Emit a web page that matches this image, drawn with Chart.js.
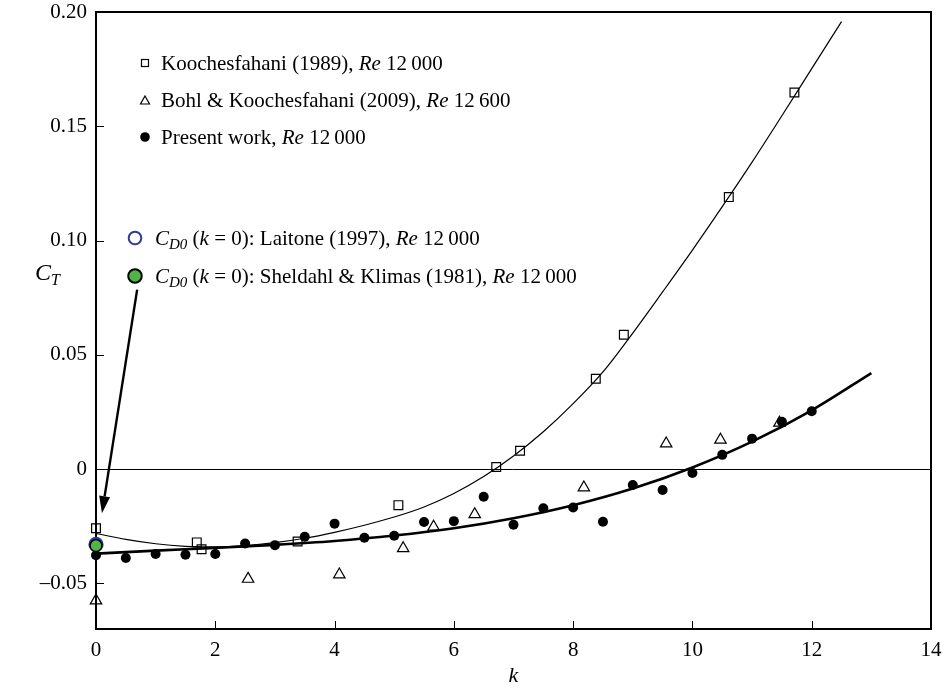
<!DOCTYPE html>
<html>
<head>
<meta charset="utf-8">
<script src="https://cdn.jsdelivr.net/npm/chart.js@4.4.1/dist/chart.umd.min.js"></script>
<style>
  html, body { margin: 0; padding: 0; background: #fff; }
  #wrap { width: 944px; height: 688px; }
</style>
</head>
<body>
<div id="wrap"><canvas id="c" width="944" height="688"></canvas></div>
<script>
// Koochesfahani (1989), Re 12 000
const kooK  = [0, 1.69, 1.77, 3.38, 5.07, 6.71, 7.11, 8.38, 8.85, 10.61, 11.71];
const kooCT = [-0.0259, -0.0321, -0.0351, -0.0317, -0.0158, 0.0009, 0.0080, 0.0395, 0.0588, 0.1190, 0.1648];

// Bohl & Koochesfahani (2009), Re 12 600
const bohlK  = [0, 2.55, 4.08, 5.15, 5.66, 6.35, 8.18, 9.56, 10.47, 11.46];
const bohlCT = [-0.0576, -0.0481, -0.0462, -0.0347, -0.0253, -0.0198, -0.0081, 0.0111, 0.0128, 0.0202];

// Present work, Re 12 000
const presK  = [0, 0.5, 1, 1.5, 2, 2.5, 3, 3.5, 4, 4.5, 5, 5.5, 6, 6.5, 7, 7.5, 8, 8.5, 9, 9.5, 10, 10.5, 11, 11.5, 12];
const presCT = [-0.0377, -0.0389, -0.0372, -0.0375, -0.0372, -0.0326, -0.0333, -0.0296, -0.0239, -0.0301,
                -0.0292, -0.0232, -0.0228, -0.0121, -0.0244, -0.0172, -0.0168, -0.0231, -0.0070, -0.0092,
                -0.0017, 0.0062, 0.0133, 0.0207, 0.0253];

// Zero-frequency drag coefficients
const laitoneK = [0],   laitoneCT = [-0.0330];
const sheldahlK = [0],  sheldahlCT = [-0.0335];

// Fitted trend curves
const fitKooK  = [0, 0.5, 1, 1.5, 2, 2.5, 3, 3.5, 4, 4.5, 5, 5.5, 6, 6.5, 7, 7.5, 8, 8.5, 9, 9.5, 10, 10.5, 11, 11.5, 12, 12.5];
const fitKooCT = [-0.0282, -0.0308, -0.0327, -0.0338, -0.0341, -0.0335, -0.0322, -0.0303, -0.0277, -0.0246,
                  -0.0210, -0.0166, -0.0107, -0.0033, 0.0057, 0.0163, 0.0286, 0.0425, 0.0595, 0.0775,
                  0.0958, 0.1148, 0.1343, 0.1546, 0.1752, 0.1958];
const fitPresK  = [0, 1, 2, 3, 4, 5, 6, 7, 8, 9, 10, 11, 12, 13];
const fitPresCT = [-0.0370, -0.0357, -0.0345, -0.0332, -0.0315, -0.0291, -0.0259, -0.0215, -0.0158, -0.0085,
                   0.0007, 0.0120, 0.0257, 0.0420];

// Axis ticks
const xTicks = [0, 2, 4, 6, 8, 10, 12, 14];
const xTickLabels = ['0', '2', '4', '6', '8', '10', '12', '14'];
const yTicks = [-0.05, 0, 0.05, 0.10, 0.15, 0.20];
const yTickLabels = ['\u20130.05', '0', '0.05', '0.10', '0.15', '0.20'];

// Arrow pointing at the k = 0 drag values (data coordinates)
const arrowFrom = [0.69, 0.0785];
const arrowTo   = [0.10, -0.0193];

const FONT = "'Liberation Serif', 'Times New Roman', serif";
const pts = (xs, ys) => xs.map((x, i) => ({ x, y: ys[i] }));

function drawParts(ctx, x, y, parts) {
  for (const p of parts) {
    ctx.font = (p.i ? 'italic ' : '') + p.s + 'px ' + FONT;
    ctx.fillText(p.t, x, y + (p.dy || 0));
    x += ctx.measureText(p.t).width;
  }
  return x;
}

function zeroPadding(scale) {
  scale.paddingLeft = 0; scale.paddingRight = 0;
  scale.paddingTop = 0; scale.paddingBottom = 0;
}

const decor = {
  id: 'decor',
  beforeDatasetsDraw(chart) {
    const { ctx, chartArea: a, scales } = chart;
    ctx.save();
    ctx.strokeStyle = '#000';
    ctx.lineWidth = 1;
    // inward tick marks
    ctx.beginPath();
    for (const t of scales.x.ticks) {
      const px = Math.round(scales.x.getPixelForValue(t.value)) + 0.5;
      ctx.moveTo(px, a.bottom); ctx.lineTo(px, a.bottom - 8);
    }
    for (const t of scales.y.ticks) {
      const py = Math.round(scales.y.getPixelForValue(t.value)) + 0.5;
      ctx.moveTo(a.left, py); ctx.lineTo(a.left + 8, py);
    }
    ctx.stroke();
    // frame
    ctx.lineWidth = 2;
    ctx.strokeRect(a.left, a.top, a.right - a.left, a.bottom - a.top);
    ctx.restore();
  },
  afterDatasetsDraw(chart) {
    const { ctx, scales } = chart;
    ctx.save();
    ctx.fillStyle = '#000';
    ctx.strokeStyle = '#000';
    ctx.textBaseline = 'alphabetic';

    // arrow
    const x0 = scales.x.getPixelForValue(arrowFrom[0]), y0 = scales.y.getPixelForValue(arrowFrom[1]);
    const x1 = scales.x.getPixelForValue(arrowTo[0]),   y1 = scales.y.getPixelForValue(arrowTo[1]);
    const ang = Math.atan2(y1 - y0, x1 - x0);
    const hl = 17, hw = 5.5;
    const bx = x1 - Math.cos(ang) * hl, by = y1 - Math.sin(ang) * hl;
    ctx.lineWidth = 2.4;
    ctx.beginPath(); ctx.moveTo(x0, y0); ctx.lineTo(bx, by); ctx.stroke();
    ctx.beginPath();
    ctx.moveTo(x1, y1);
    ctx.lineTo(bx + Math.sin(ang) * hw, by - Math.cos(ang) * hw);
    ctx.lineTo(bx - Math.sin(ang) * hw, by + Math.cos(ang) * hw);
    ctx.closePath(); ctx.fill();

    // legend block 1
    ctx.lineWidth = 1.2;
    ctx.strokeRect(141.5, 59.5, 7, 7);
    ctx.beginPath(); ctx.moveTo(145, 96); ctx.lineTo(149.5, 104); ctx.lineTo(140.5, 104); ctx.closePath(); ctx.stroke();
    ctx.beginPath(); ctx.arc(145, 137, 4.8, 0, Math.PI * 2); ctx.fill();
    drawParts(ctx, 161, 70, [{ t: 'Koochesfahani (1989), ', s: 21 }, { t: 'Re', s: 21, i: true }, { t: ' 12\u2009000', s: 21 }]);
    drawParts(ctx, 161, 107, [{ t: 'Bohl & Koochesfahani (2009), ', s: 21 }, { t: 'Re', s: 21, i: true }, { t: ' 12\u2009600', s: 21 }]);
    drawParts(ctx, 161, 144, [{ t: 'Present work, ', s: 21 }, { t: 'Re', s: 21, i: true }, { t: ' 12\u2009000', s: 21 }]);

    // legend block 2
    ctx.lineWidth = 2;
    ctx.strokeStyle = '#2e3b9c';
    ctx.beginPath(); ctx.arc(135, 238, 6.3, 0, Math.PI * 2); ctx.stroke();
    ctx.fillStyle = '#4fb548'; ctx.strokeStyle = '#000';
    ctx.beginPath(); ctx.arc(135, 276, 6.8, 0, Math.PI * 2); ctx.fill(); ctx.stroke();
    ctx.fillStyle = '#000';
    const cd0 = [{ t: 'C', s: 21, i: true }, { t: 'D0', s: 15, i: true, dy: 4 }, { t: ' (', s: 21 }, { t: 'k', s: 21, i: true }, { t: ' = 0): ', s: 21 }];
    drawParts(ctx, 155, 245, cd0.concat([{ t: 'Laitone (1997), ', s: 21 }, { t: 'Re', s: 21, i: true }, { t: ' 12\u2009000', s: 21 }]));
    drawParts(ctx, 155, 283, cd0.concat([{ t: 'Sheldahl & Klimas (1981), ', s: 21 }, { t: 'Re', s: 21, i: true }, { t: ' 12\u2009000', s: 21 }]));

    // axis titles
    drawParts(ctx, 35, 280, [{ t: 'C', s: 24, i: true }, { t: 'T', s: 16, i: true, dy: 5 }]);
    ctx.font = 'italic 22px ' + FONT;
    ctx.textAlign = 'center';
    ctx.fillText('k', (chart.chartArea.left + chart.chartArea.right) / 2, 682);
    ctx.restore();
  }
};

new Chart(document.getElementById('c'), {
  type: 'scatter',
  data: {
    datasets: [
      { label: 'Sheldahl & Klimas (1981)', data: pts(sheldahlK, sheldahlCT), pointStyle: 'circle', pointRadius: 6,
        backgroundColor: '#4fb548', borderColor: '#000', borderWidth: 1.5, clip: false, order: 0 },
      { label: 'Laitone (1997)', data: pts(laitoneK, laitoneCT), pointStyle: 'circle', pointRadius: 6.5,
        backgroundColor: 'rgba(0,0,0,0)', borderColor: '#2e3b9c', borderWidth: 2.2, clip: false, order: 1 },
      { label: 'Present work', data: pts(presK, presCT), pointStyle: 'circle', pointRadius: 5,
        backgroundColor: '#000', borderColor: '#000', borderWidth: 0, clip: false, order: 2 },
      { label: 'Bohl & Koochesfahani (2009)', data: pts(bohlK, bohlCT), pointStyle: 'triangle', pointRadius: 6.6,
        backgroundColor: 'rgba(0,0,0,0)', borderColor: '#000', borderWidth: 1.2, clip: false, order: 3 },
      { label: 'Koochesfahani (1989)', data: pts(kooK, kooCT), pointStyle: 'rect', pointRadius: 6.2,
        backgroundColor: 'rgba(0,0,0,0)', borderColor: '#000', borderWidth: 1.2, clip: false, order: 4 },
      { label: 'Present fit', data: pts(fitPresK, fitPresCT), showLine: true, pointRadius: 0,
        borderColor: '#000', borderWidth: 2.6, cubicInterpolationMode: 'monotone', fill: false, order: 5 },
      { label: 'Koochesfahani fit', data: pts(fitKooK, fitKooCT), showLine: true, pointRadius: 0,
        borderColor: '#000', borderWidth: 1.2, cubicInterpolationMode: 'monotone', fill: false, order: 6 }
    ]
  },
  options: {
    responsive: false,
    animation: false,
    devicePixelRatio: 1,
    layout: { padding: { left: 0, right: 13, top: 12, bottom: 0 } },
    plugins: { legend: { display: false }, tooltip: { enabled: false } },
    elements: { point: { hoverRadius: 0 } },
    scales: {
      x: {
        type: 'linear', min: 0, max: 14,
        afterBuildTicks(scale) { scale.ticks = xTicks.map(v => ({ value: v })); },
        afterFit(scale) { scale.height = 59; zeroPadding(scale); },
        ticks: {
          callback: (v) => xTickLabels[xTicks.indexOf(v)],
          font: { family: FONT, size: 21, lineHeight: 1 }, color: '#000', padding: 11, maxRotation: 0
        },
        grid: { display: false, drawTicks: false },
        border: { display: false }
      },
      y: {
        type: 'linear', min: -0.07, max: 0.20,
        afterBuildTicks(scale) { scale.ticks = yTicks.map(v => ({ value: v })); },
        afterFit(scale) { scale.width = 96; zeroPadding(scale); },
        ticks: {
          callback: (v) => yTickLabels[yTicks.indexOf(v)],
          font: { family: FONT, size: 21, lineHeight: 1 }, color: '#000', padding: 9
        },
        grid: {
          drawTicks: false, drawOnChartArea: true, lineWidth: 1,
          color: (c) => (c.tick && c.tick.value === 0 ? '#000' : 'rgba(0,0,0,0)')
        },
        border: { display: false }
      }
    }
  },
  plugins: [decor]
});
</script>
</body>
</html>
